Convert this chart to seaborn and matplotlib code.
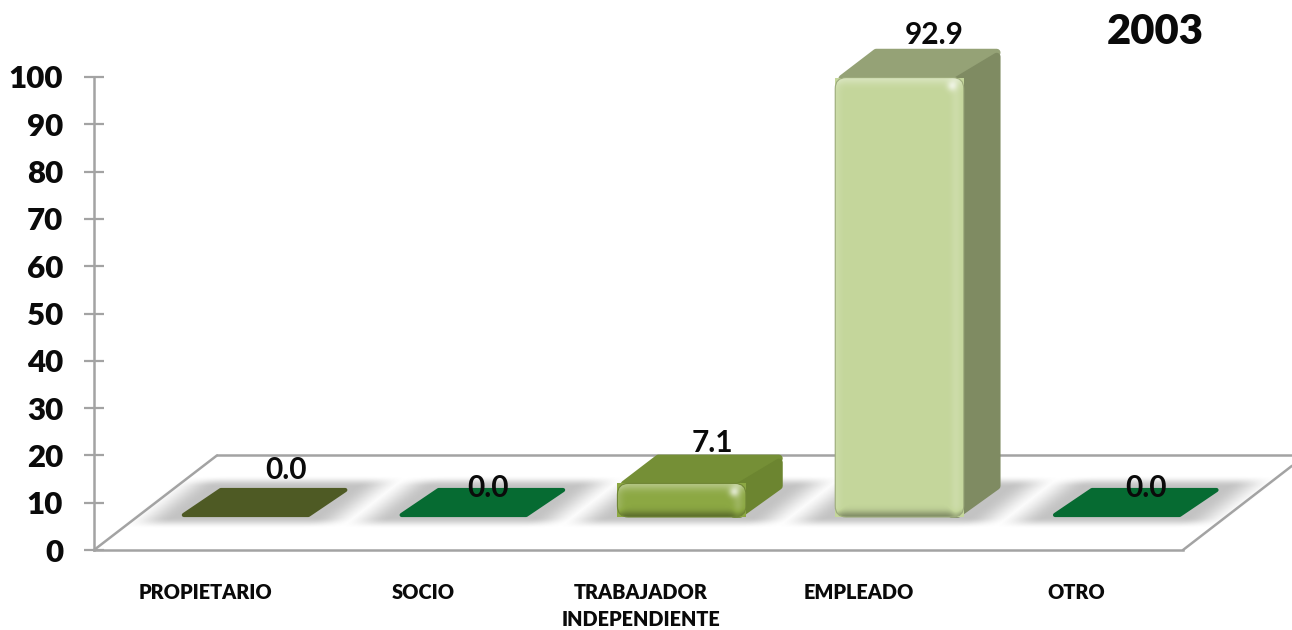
#!/usr/bin/env python3
"""Bar chart with a painted 3D look: ocupacion 2003."""

import matplotlib
matplotlib.use("Agg")

import matplotlib.pyplot as plt
import matplotlib.transforms as mtrans
from matplotlib.colors import to_rgb
from matplotlib.lines import Line2D
from matplotlib.patches import FancyBboxPatch, Polygon
import numpy as np
import pandas as pd
import seaborn as sns

CATEGORIES = ["PROPIETARIO", "SOCIO", "TRABAJADOR\nINDEPENDIENTE", "EMPLEADO", "OTRO"]
VALUES = [0.0, 0.0, 7.1, 92.9, 0.0]
VALUE_TEXT = ["0.0", "0.0", "7.1", "92.9", "0.0"]
Y_TICKS = list(range(0, 101, 10))
YEAR = "2003"

FRONT_COLORS = ["#4E5A24", "#066B32", "#8CA843", "#C4D69B", "#066B32"]
TOP_COLORS = ["#4E5A24", "#066B32", "#758F36", "#95A276", "#066B32"]
SIDE_COLORS = ["#4E5A24", "#066B32", "#6C8530", "#7F8B62", "#066B32"]
# where each value label sits, in pixels from the front centre of its bar
LABEL_SHIFT = [(40, 47), (24, 29), (31, 74), (35, 482), (29, 29)]

W, H = 1292, 630
BAR_SHIFT = (41, 33)
DEPTH = (37, 29)
GRAY = "#A3A3A3"
BLACK = "#0A0A0A"


def smooth(v):
    v = np.clip(v, 0, 1)
    return v * v * (3 - 2 * v)


def floor_shadow(boxes):
    yy, xx = np.mgrid[0:H, 0:W]
    alpha = np.zeros((H, W))
    for x0, x1, base in boxes:
        u = xx - (yy - base) * DEPTH[0] / DEPTH[1]
        across = smooth((u - x0 + 52) / 46) * smooth((x1 + 52 - u) / 46)
        up = smooth((yy - base + 12) / 11) * smooth((base + DEPTH[1] + 12 - yy) / 11)
        alpha = np.maximum(alpha, 0.36 * across * up)
    img = np.zeros((H, W, 4))
    img[..., :3] = 0.35
    img[..., 3] = alpha
    return img


def shading(w, h):
    yy, xx = np.mgrid[0:h, 0:w] + 0.5
    top, bottom = yy, h - yy
    left, right = xx, w - xx
    light = 0.34 * np.exp(-((top / 7) ** 2))
    light += 0.14 * np.exp(-((left / 6) ** 2)) + 0.14 * np.exp(-(((right - 8) / 5) ** 2))
    light += 0.55 * np.exp(-(((right - 12) / 5) ** 2 + ((top - 9) / 5) ** 2))
    dark = 0.34 * np.exp(-((bottom / 6) ** 2))
    img = np.zeros((h, w, 4))
    img[..., :3] = (light > dark)[..., None].astype(float)
    img[..., 3] = np.clip(np.abs(light - dark), 0, 1)
    return img


sns.set_style("white")
plt.rcParams["font.family"] = ["Lato", "DejaVu Sans"]

fig = plt.figure(figsize=(W / 100, H / 100), dpi=100)
ax = fig.add_axes([94 / W, 1 - 550 / H, 1089 / W, 473 / H])
ax.patch.set_visible(False)

frame = pd.DataFrame({"categoria": CATEGORIES, "valor": VALUES})
sns.barplot(
    data=frame,
    x="categoria",
    y="valor",
    hue="categoria",
    palette=FRONT_COLORS,
    saturation=1,
    width=0.59,
    legend=False,
    ax=ax,
)
ax.set_xlim(-0.51, 4.49)
ax.set_ylim(0, 100)
ax.set_autoscale_on(False)
ax.set_xlabel("")
ax.set_ylabel("")
ax.set_yticks(Y_TICKS)
ax.tick_params(axis="y", direction="inout", length=14.5, width=1.6, color=GRAY, pad=15,
               labelsize=22.5, labelcolor=BLACK, left=True)
ax.tick_params(axis="x", length=0, pad=24, labelsize=14.3, labelcolor=BLACK)
for label in ax.get_yticklabels():
    label.set_fontweight("heavy")
for label in ax.get_xticklabels():
    label.set_fontweight("heavy")
    label.set_linespacing(1.45)
for name in ["top", "right"]:
    ax.spines[name].set_visible(False)
for name in ["left", "bottom"]:
    ax.spines[name].set_color(GRAY)
    ax.spines[name].set_linewidth(1.8)

# floor outline, from the axes corners back to the y=20 line
pixel = mtrans.IdentityTransform()
corner_l = ax.transData.transform((-0.51, 0))
corner_r = ax.transData.transform((4.49, 0))
back_y = ax.transData.transform((0, 20))[1]
back_x0 = corner_l[0] + 123
floor_lines = [
    ([corner_l[0], back_x0], [corner_l[1], back_y]),
    ([back_x0, W], [back_y, back_y]),
    ([corner_r[0], W], [corner_r[1], corner_r[1] + (W - corner_r[0]) * 95 / 123]),
]
for xs, ys in floor_lines:
    fig.add_artist(Line2D(xs, ys, transform=pixel, color=GRAY, lw=1.8, zorder=-0.5))

shift = mtrans.Affine2D().translate(*BAR_SHIFT)
boxes = []
for i, bar in enumerate(ax.patches):
    (x0, y0), (x1, y1) = ax.transData.transform(
        [(bar.get_x(), 0), (bar.get_x() + bar.get_width(), bar.get_height())]
    )
    x0, x1 = x0 + BAR_SHIFT[0], x1 + BAR_SHIFT[0]
    y0, y1 = y0 + BAR_SHIFT[1], y1 + BAR_SHIFT[1]
    boxes.append((x0, x1, y0))
    dx, dy = DEPTH
    solid = bar.get_height() > 0
    bar.set_transform(ax.transData + shift)
    bar.set_edgecolor("none")
    bar.set_clip_on(False)
    bar.set_zorder(3)

    # cap, which is all that shows of an empty bar; solid ones tuck under the front
    inset = 4 if solid else 2
    cap_lw = 5.5 if solid else 3
    tuck = 5 if solid else 0
    nudge = 3 if solid else 0
    ax.add_patch(Polygon(
        [(x0 + inset + nudge, y1 + inset - tuck), (x1 - inset, y1 + inset - tuck),
         (x1 + dx - inset, y1 + dy - inset), (x0 + dx + inset, y1 + dy - inset)],
        closed=True, transform=pixel, facecolor=TOP_COLORS[i], edgecolor=TOP_COLORS[i],
        lw=cap_lw, joinstyle="round", zorder=2.5, clip_on=False,
    ))
    if solid:
        ax.add_patch(Polygon(
            [(x1 - 12, y0 + 3), (x1 - 6, y0 + 3), (x1 + dx - inset, y0 + dy + 2),
             (x1 + dx - inset, y1 + dy - inset - 4), (x1 - 12, y1 - 6)],
            closed=True, transform=pixel, facecolor=SIDE_COLORS[i], edgecolor=SIDE_COLORS[i],
            lw=cap_lw, joinstyle="round", zorder=2.6, clip_on=False,
        ))
        round_to = min(11, (y1 - y0) / 2 - 1)
        rim = FancyBboxPatch(
            (x0 + round_to, y0 + round_to), x1 - x0 - 2 * round_to, y1 - y0 - 2 * round_to,
            boxstyle=f"round,pad={round_to},rounding_size={round_to}",
            transform=pixel, facecolor="none", clip_on=False, zorder=5,
            edgecolor=tuple(c * 0.8 for c in to_rgb(FRONT_COLORS[i])), lw=0.8,
        )
        ax.add_patch(rim)
        bar.set_clip_path(rim)
        w, h = int(round(x1 - x0)), int(round(y1 - y0))
        shade = ax.imshow(shading(w, h), extent=(x0, x1, y0, y1), transform=pixel,
                          aspect="auto", zorder=4, interpolation="bilinear")
        shade.set_clip_path(rim)

    lx, ly = LABEL_SHIFT[i]
    ax.text((x0 + x1) / 2 + lx, y0 + ly, VALUE_TEXT[i], transform=pixel, ha="center",
            va="center", fontsize=21.5, color=BLACK, fontweight="bold", zorder=6, clip_on=False)

ax.set_xlim(-0.51, 4.49)
ax.set_ylim(0, 100)

fig.figimage(floor_shadow(boxes), origin="lower", zorder=-1)
fig.text(1155 / W, 1 - 32 / H, YEAR, ha="center", va="center", fontsize=30,
         fontweight="heavy", color=BLACK)

fig.savefig("out.png", dpi=100, facecolor="white")
